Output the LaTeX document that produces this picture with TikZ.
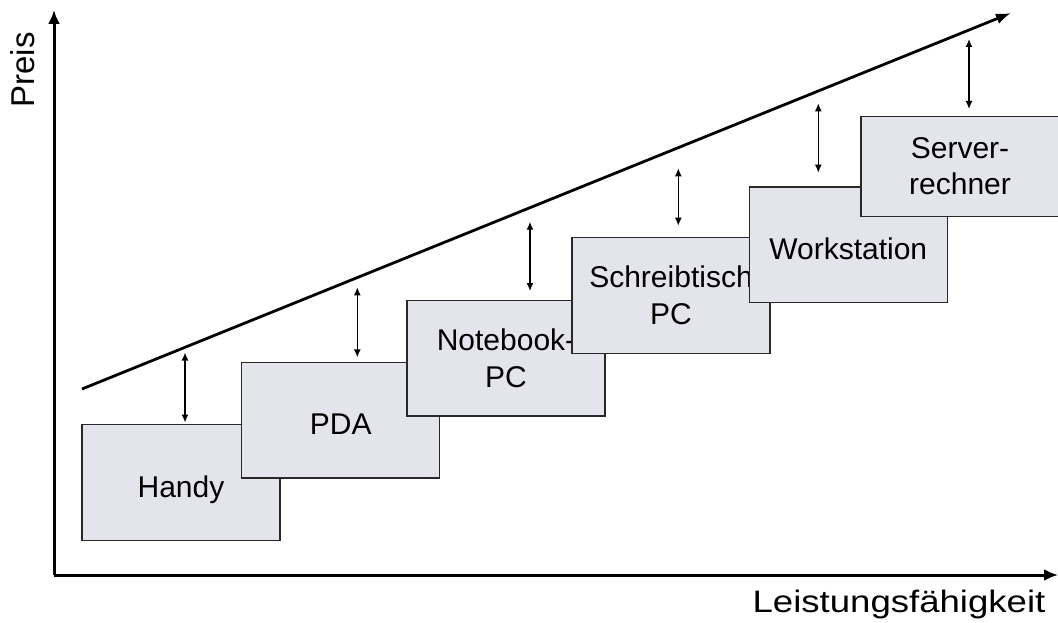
\documentclass[tikz,border=0pt]{standalone}
\usepackage{fontspec}
\setmainfont{Liberation Sans}
\usetikzlibrary{arrows.meta}
\definecolor{boxfill}{RGB}{228,228,237}
\definecolor{boxline}{RGB}{40,40,40}
\tikzset{
  axis/.style={line width=3pt, -{Latex[length=14pt,width=12pt]}},
  trend/.style={line width=2.8pt, -{Latex[length=15pt,width=11pt]}},
  gap/.style={line width=1.4pt, {Latex[length=8pt,width=7pt]}-{Latex[length=8pt,width=7pt]}},
  device/.style={draw=boxline, fill=boxfill, line width=1.4pt, inner sep=0pt,
    minimum width=198pt, minimum height=115.5pt, align=center,
    font=\fontsize{30}{36.5}\selectfont},
  oneline/.style={text height=29pt, text depth=0pt},
  axislabel/.style={inner sep=0pt, font=\fontsize{31}{37}\selectfont}
}
\begin{document}
\begin{tikzpicture}[x=1pt, y=-1pt]
\useasboundingbox (0,0) rectangle (1058,623);

% axes
\coordinate (origin) at (54,575);
\coordinate (ytip) at (54,10);
\coordinate (xtip) at (1058,575);
\draw[axis] (origin) -- (ytip);
\draw[axis] (origin) -- (xtip);
\node[axislabel, font=\fontsize{33}{37}\selectfont, rotate=90] (ylab) at (23,70) {Preis};
\node[axislabel, anchor=base] (xlab) at (899,612) {\scalebox{1.18}[1]{Leistungsfähigkeit}};

% price trend
\coordinate (t0) at (82,389);
\coordinate (t1) at (1011,13);
\draw[trend] (t0) -- (t1);

% device classes, each box overlapping the previous one
\node[device, oneline] (handy) at (181,482.5) {Handy};
\node[device, oneline] (pda) at (340.75,420.1) {PDA};
\node[device] (notebook) at (506,358.1) {Notebook-\\PC};
\node[device] (desktop) at (671,295.5) {Schreibtisch\\PC};
\node[device, oneline] (workstation) at (848.25,244.75) {Workstation};
\node[device, minimum height=100pt] (server) at (960,166.4) {Server-\\rechner};

% distance between price line and each class
\coordinate (a1t) at (185,352.5);   \coordinate (a1b) at (185,422.5);
\coordinate (a2t) at (357.3,287.3); \coordinate (a2b) at (357.3,357.3);
\coordinate (a3t) at (530,221.7);   \coordinate (a3b) at (530,291);
\coordinate (a4t) at (678.3,168.3); \coordinate (a4b) at (678.3,225.7);
\coordinate (a5t) at (818.3,103.3); \coordinate (a5b) at (818.3,172.7);
\coordinate (a6t) at (969,39);      \coordinate (a6b) at (969,109);
\foreach \i in {1,...,6}
  \draw[gap] (a\i t) -- (a\i b);
\end{tikzpicture}
\end{document}
